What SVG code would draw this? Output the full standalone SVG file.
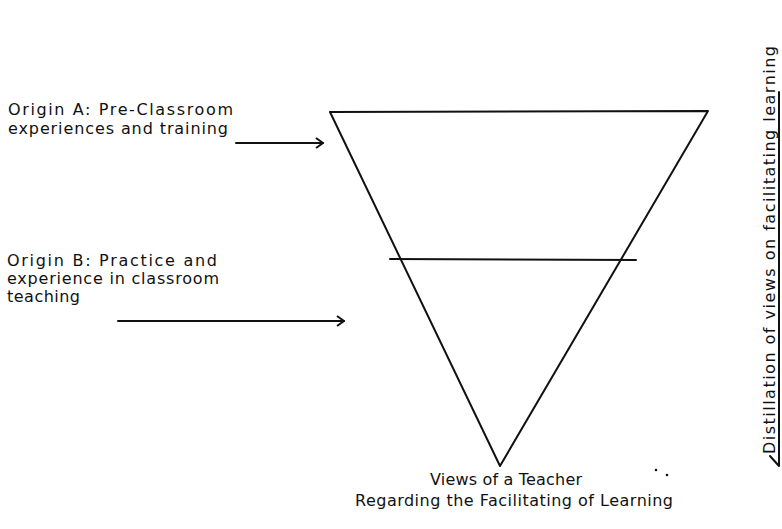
<svg xmlns="http://www.w3.org/2000/svg" width="782" height="529" viewBox="0 0 782 529">
<defs>
<style>
.t{font-family:"DejaVu Sans","Liberation Sans",Arial,sans-serif;font-size:16px;fill:#111;}
.ln{fill:none;stroke:#111;stroke-width:2;stroke-linecap:round;stroke-linejoin:round;}
</style>
<marker id="ah" viewBox="0 0 10 12" refX="9" refY="6" markerWidth="10" markerHeight="12" markerUnits="userSpaceOnUse" orient="auto">
<path d="M2,1 L9,6 L2,11" fill="none" stroke="#111" stroke-width="2"/>
</marker>
</defs>
<rect width="782" height="529" fill="#fff"/>
<g id="originA">
<text class="t" x="8" y="115" textLength="225">Origin A:  Pre-Classroom</text>
<text class="t" x="8" y="134" textLength="220">experiences and training</text>
</g>
<g id="originB">
<text class="t" x="7" y="266" textLength="210">Origin B:  Practice and</text>
<text class="t" x="7" y="284" textLength="212">experience in classroom</text>
<text class="t" x="7" y="302" textLength="73">teaching</text>
</g>
<g id="triangle">
<path class="ln" d="M330,112 L708,111 L500,466 Z"/>
<line class="ln" x1="390" y1="259" x2="636" y2="260"/>
</g>
<g id="views">
<text class="t" x="506" y="485" text-anchor="middle" textLength="152">Views of a Teacher</text>
<text class="t" x="514" y="506" text-anchor="middle" textLength="318">Regarding the Facilitating of Learning</text>
</g>
<g id="specks" fill="#111">
<circle cx="656" cy="470" r="1.3"/>
<circle cx="667" cy="475" r="1.3"/>
</g>
<g id="distillation">
<text class="t" transform="translate(775,454) rotate(-90)" textLength="408">Distillation of views on facilitating learning</text>
</g>
<g id="connectors">
<line class="ln" x1="236" y1="143" x2="323" y2="143" marker-end="url(#ah)"/>
<line class="ln" x1="118" y1="321" x2="344" y2="321" marker-end="url(#ah)"/>
<path class="ln" d="M779,92 L779,466 L770,456" stroke-width="1.5"/>
</g>
</svg>
